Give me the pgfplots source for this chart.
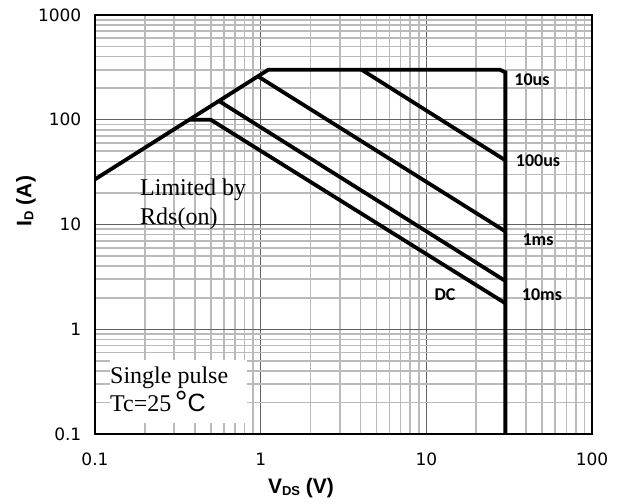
\documentclass[border=0pt]{standalone}
\usepackage{fontspec}
\setmainfont{Liberation Serif}
\newfontfamily\tickfont{DejaVu Sans}
\newfontfamily\arialf{Liberation Sans}
\newfontfamily\calib{Carlito}
\usepackage{pgfplots}
\pgfplotsset{compat=1.18}
\begin{document}
\begin{tikzpicture}
\begin{axis}[
  xmode=log, ymode=log,
  scale only axis, width=497bp, height=419bp,
  xmin=0.1, xmax=100, ymin=0.1, ymax=1000,
  xtick={0.1,1,10,100}, xticklabels={0.1,1,10,100},
  ytick={0.1,1,10,100,1000}, yticklabels={0.1,1,10,100,1000},
  minor xtick={0.2,0.3,0.4,0.5,0.6,0.7,0.8,0.9,2,3,4,5,6,7,8,9,20,30,40,50,60,70,80,90},
  minor ytick={0.2,0.3,0.4,0.5,0.6,0.7,0.8,0.9,2,3,4,5,6,7,8,9,20,30,40,50,60,70,80,90,200,300,400,500,600,700,800,900},
  grid=both,
  major grid style={draw=black!62, line width=1.3bp},
  minor grid style={draw=black!27, line width=1.6bp},
  major tick length=0pt, minor tick length=0pt,
  axis line style={line width=2.8bp, draw=black},
  tick label style={font=\tickfont\fontsize{17bp}{19bp}\selectfont, inner sep=0pt},
  xticklabel style={anchor=center, yshift=-25bp},
  yticklabel style={anchor=east, xshift=-13.5bp},
]
\addplot[black, line width=3.8bp, no marks] coordinates {(0.1,27) (1.111,300) (27.8,300) (30,284) (30,0.1)};
\addplot[black, line width=3.8bp, no marks] coordinates {(4.07,300) (30,41)};
\addplot[black, line width=3.8bp, no marks] coordinates {(0.962,260) (30,8.6)};
\addplot[black, line width=3.8bp, no marks] coordinates {(0.56,151) (30,2.89)};
\addplot[black, line width=3.8bp, no marks] coordinates {(0.37,100) (0.5,100) (30,1.77)};
\draw[black, line width=2.8bp] (rel axis cs:0,0) rectangle (rel axis cs:1,1);
\end{axis}
\coordinate (O) at ([xshift=-95bp,yshift=434bp]current axis.south west);
% Single pulse box
\fill[white] ([xshift=110bp,yshift=-360bp]O) rectangle ([xshift=247bp,yshift=-423bp]O);
\node[anchor=base west, inner sep=0pt] at ([xshift=110bp,yshift=-384bp]O) {\fontsize{24bp}{28bp}\selectfont Single pulse};
\node[anchor=base west, inner sep=0pt] at ([xshift=110bp,yshift=-411bp]O) {\fontsize{24bp}{28bp}\selectfont Tc=25\hspace{3.5bp}\raisebox{-2bp}{\arialf\fontsize{32bp}{32bp}\selectfont °}{\arialf\fontsize{25bp}{25bp}\selectfont C}};
% Limited by
\node[anchor=base west, inner sep=0pt] at ([xshift=140bp,yshift=-196bp]O) {\fontsize{24bp}{28bp}\selectfont Limited by};
\node[anchor=base west, inner sep=0pt] at ([xshift=140bp,yshift=-225bp]O) {\fontsize{24bp}{28bp}\selectfont Rds(on)};
% curve labels
\tikzset{cl/.style={inner sep=0pt, font=\calib\bfseries\fontsize{18bp}{18bp}\selectfont}}
\node[cl] at ([xshift=532bp,yshift=-80bp]O) {10us};
\node[cl] at ([xshift=538bp,yshift=-161bp]O) {100us};
\node[cl] at ([xshift=538bp,yshift=-240bp]O) {1ms};
\node[cl] at ([xshift=542bp,yshift=-295bp]O) {10ms};
\node[cl] at ([xshift=445bp,yshift=-295bp]O) {DC};
% axis labels
\node[inner sep=0pt] at ([xshift=301bp,yshift=-488bp]O) {\arialf\bfseries\fontsize{21bp}{24bp}\selectfont V\raisebox{-2bp}{\fontsize{13bp}{13bp}\selectfont DS} (V)};
\node[inner sep=0pt, rotate=90] at ([xshift=26bp,yshift=-201bp]O) {\arialf\bfseries\fontsize{21bp}{24bp}\selectfont I\raisebox{-2bp}{\fontsize{13bp}{13bp}\selectfont D} (A)};
\pgfresetboundingbox
\path (O) rectangle ([xshift=622bp,yshift=-504bp]O);
\end{tikzpicture}
\end{document}
